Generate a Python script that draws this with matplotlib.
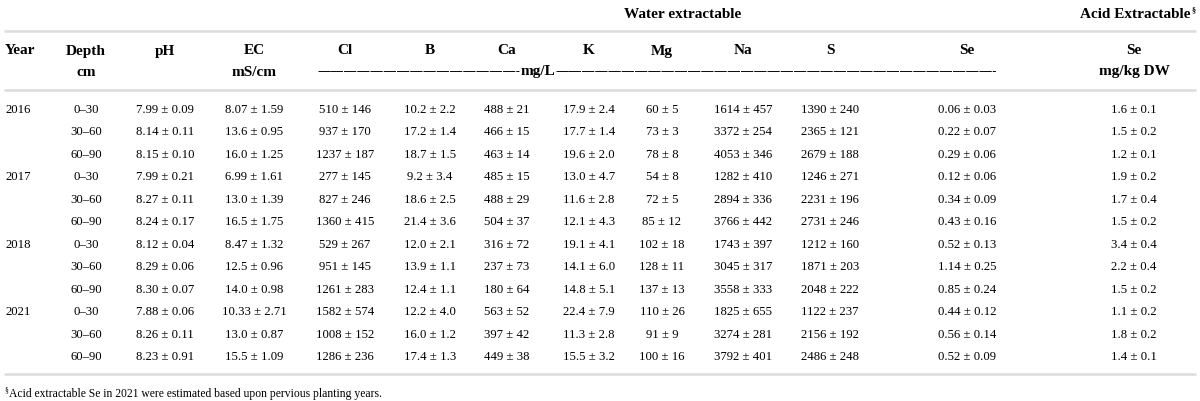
import matplotlib
matplotlib.use("Agg")
import matplotlib.pyplot as plt

years = ["2016", "", "", "2017", "", "", "2018", "", "", "2021", "", ""]
depths = ["0–30", "30–60", "60–90"] * 4
ph = ["7.99 ± 0.09", "8.14 ± 0.11", "8.15 ± 0.10", "7.99 ± 0.21", "8.27 ± 0.11", "8.24 ± 0.17",
      "8.12 ± 0.04", "8.29 ± 0.06", "8.30 ± 0.07", "7.88 ± 0.06", "8.26 ± 0.11", "8.23 ± 0.91"]
ec = ["8.07 ± 1.59", "13.6 ± 0.95", "16.0 ± 1.25", "6.99 ± 1.61", "13.0 ± 1.39", "16.5 ± 1.75",
      "8.47 ± 1.32", "12.5 ± 0.96", "14.0 ± 0.98", "10.33 ± 2.71", "13.0 ± 0.87", "15.5 ± 1.09"]
cl = ["510 ± 146", "937 ± 170", "1237 ± 187", "277 ± 145", "827 ± 246", "1360 ± 415",
      "529 ± 267", "951 ± 145", "1261 ± 283", "1582 ± 574", "1008 ± 152", "1286 ± 236"]
b = ["10.2 ± 2.2", "17.2 ± 1.4", "18.7 ± 1.5", "9.2 ± 3.4", "18.6 ± 2.5", "21.4 ± 3.6",
     "12.0 ± 2.1", "13.9 ± 1.1", "12.4 ± 1.1", "12.2 ± 4.0", "16.0 ± 1.2", "17.4 ± 1.3"]
ca = ["488 ± 21", "466 ± 15", "463 ± 14", "485 ± 15", "488 ± 29", "504 ± 37",
      "316 ± 72", "237 ± 73", "180 ± 64", "563 ± 52", "397 ± 42", "449 ± 38"]
k = ["17.9 ± 2.4", "17.7 ± 1.4", "19.6 ± 2.0", "13.0 ± 4.7", "11.6 ± 2.8", "12.1 ± 4.3",
     "19.1 ± 4.1", "14.1 ± 6.0", "14.8 ± 5.1", "22.4 ± 7.9", "11.3 ± 2.8", "15.5 ± 3.2"]
mg = ["60 ± 5", "73 ± 3", "78 ± 8", "54 ± 8", "72 ± 5", "85 ± 12",
      "102 ± 18", "128 ± 11", "137 ± 13", "110 ± 26", "91 ± 9", "100 ± 16"]
na = ["1614 ± 457", "3372 ± 254", "4053 ± 346", "1282 ± 410", "2894 ± 336", "3766 ± 442",
      "1743 ± 397", "3045 ± 317", "3558 ± 333", "1825 ± 655", "3274 ± 281", "3792 ± 401"]
s = ["1390 ± 240", "2365 ± 121", "2679 ± 188", "1246 ± 271", "2231 ± 196", "2731 ± 246",
     "1212 ± 160", "1871 ± 203", "2048 ± 222", "1122 ± 237", "2156 ± 192", "2486 ± 248"]
se_water = ["0.06 ± 0.03", "0.22 ± 0.07", "0.29 ± 0.06", "0.12 ± 0.06", "0.34 ± 0.09", "0.43 ± 0.16",
            "0.52 ± 0.13", "1.14 ± 0.25", "0.85 ± 0.24", "0.44 ± 0.12", "0.56 ± 0.14", "0.52 ± 0.09"]
se_acid = ["1.6 ± 0.1", "1.5 ± 0.2", "1.2 ± 0.1", "1.9 ± 0.2", "1.7 ± 0.4", "1.5 ± 0.2",
           "3.4 ± 0.4", "2.2 ± 0.4", "1.5 ± 0.2", "1.1 ± 0.2", "1.8 ± 0.2", "1.4 ± 0.1"]

header1 = ["Year", "Depth", "pH", "EC", "Cl", "B", "Ca", "K", "Mg", "Na", "S", "Se", "Se"]
header2 = ["", "cm", "", "mS/cm", "", "", "", "", "", "", "", "", "mg/kg DW"]
group_water = "Water extractable"
group_acid = "Acid Extractable"
unit_left = "—" * 15 + "-"
unit_mid = "mg/L"
unit_right = "—" * 33 + "-"
footnote = "Acid extractable Se in 2021 were estimated based upon pervious planting years."

columns = [years, depths, ph, ec, cl, b, ca, k, mg, na, s, se_water, se_acid]

# layout (pixels)
col_x = [5, 86, 165, 254, 345, 430, 507, 589, 662, 743, 830, 967, 1134]
row0, row_step = 110, 22.5
SERIF = "Liberation Serif"
DASH_FONT = "Noto Sans"
data_fs = 9.2
head_fs = 11
dash_fs = 9.6
line_color = "#dcdcdc"

fig = plt.figure(figsize=(12, 4.02), dpi=100)
ax = fig.add_axes([0, 0, 1, 1])
ax.set_xlim(0, 1200)
ax.set_ylim(402, 0)
ax.axis("off")

# rules
for y in (32, 91, 375):
    ax.plot([4, 1196], [y, y], color=line_color, lw=1.8, solid_capstyle="butt")

# group headers
ax.text(683, 15, group_water, ha="center", va="center", family=SERIF, weight="bold", fontsize=head_fs)
ax.text(1190, 15, group_acid, ha="right", va="center", family=SERIF, weight="bold", fontsize=head_fs)
ax.text(1191, 10, "§", ha="left", va="center", family=SERIF, weight="bold", fontsize=6)

# column headers
for i, (h1, h2) in enumerate(zip(header1, header2)):
    ha = "left" if i == 0 else "center"
    ax.text(col_x[i], 51, h1, ha=ha, va="center", family=SERIF, weight="bold", fontsize=head_fs)
    if h2:
        ax.text(col_x[i], 72, h2, ha=ha, va="center", family=SERIF, weight="bold", fontsize=head_fs)

# unit line: dashes - mg/L - dashes, chained by measured extents
fig.canvas.draw()
renderer = fig.canvas.get_renderer()
inv = ax.transData.inverted()
t1 = ax.text(318, 72, unit_left, ha="left", va="center", family=DASH_FONT, weight="bold", fontsize=dash_fs)
x_end = inv.transform(t1.get_window_extent(renderer).get_points())[1][0]
t2 = ax.text(x_end, 72, unit_mid, ha="left", va="center", family=SERIF, weight="bold", fontsize=head_fs)
x_end = inv.transform(t2.get_window_extent(renderer).get_points())[1][0]
ax.text(x_end, 72, unit_right, ha="left", va="center", family=DASH_FONT, weight="bold", fontsize=dash_fs)

# body
for i, col in enumerate(columns):
    ha = "left" if i == 0 else "center"
    for r, val in enumerate(col):
        if val:
            ax.text(col_x[i], row0 + r * row_step, val, ha=ha, va="center",
                    family=SERIF, fontsize=data_fs)

# footnote
ax.text(4, 390, "§", ha="left", va="center", family=SERIF, fontsize=5.5)
ax.text(9, 394, footnote, ha="left", va="center", family=SERIF, fontsize=8.4)

fig.savefig("out.png", dpi=100)
